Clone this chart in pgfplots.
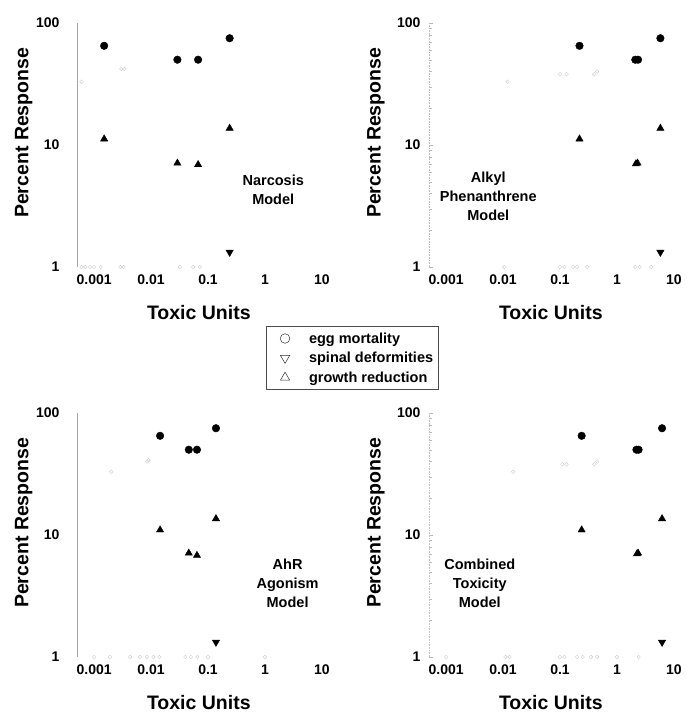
\documentclass[border=0pt]{standalone}
\usepackage{fontspec}
\setmainfont{Liberation Sans}
\usepackage{pgfplots}
\pgfplotsset{compat=1.18}

\pgfplotsset{
  myegg/.style={only marks, mark=*, black, mark size=3.8pt},
  mygrowth/.style={only marks, mark=triangle*, black, mark size=4.2pt},
  myspinal/.style={only marks, mark=triangle*, black, mark size=4.2pt,
                 mark options={rotate=180}},
  myfaint/.style={only marks, mark=o, mark size=1.8pt, gray!40,
                line width=0.4pt},
}
\tikzset{mytag/.style={font=\fontsize{14.5}{19}\selectfont\bfseries, align=center}}

\begin{document}
\begin{tikzpicture}
\useasboundingbox (0,0) rectangle (687pt,714pt);

% top left
\begin{axis}[at={(77pt,447pt)},
    xmode=log, ymode=log,
    scale only axis, width=262pt, height=244pt,
    xmin=5e-4, xmax=20, ymin=1, ymax=100,
    axis lines*=left,
    x axis line style={draw=none},
    y axis line style={gray!70, line width=0.6pt},
    xtick={0.001,0.01,0.1,1,10},
    xticklabels={0.001,0.01,0.1,1,10},
    ytick={1,10,100}, yticklabels={1,10,100},
    major tick length=0pt, minor tick length=0pt,
    tick label style={font=\fontsize{14}{14}\selectfont\bfseries},
    xticklabel style={yshift=-4pt},
    yticklabel style={xshift=-14pt},
    xlabel={Toxic Units}, ylabel={Percent Response},
    label style={font=\fontsize{19.5}{19.5}\selectfont\bfseries},
    xlabel style={at={(axis description cs:0.465,-0.185)}, anchor=center},
    ylabel style={at={(axis description cs:-0.203,0.55)}, anchor=center},
    clip=false,
  legend style={at={(1.05,-0.373)}, anchor=center,
                font=\fontsize{14.5}{14.5}\selectfont\bfseries,
                draw=black!70, line width=0.6pt,
                inner xsep=3pt, inner ysep=4pt, row sep=3.5pt},
  legend image code/.code={\path[draw=none, fill=none] (0pt,-5pt) rectangle (38pt,5pt);
                           \draw[#1] plot coordinates {(16pt,0pt)};},
  legend cell align=left]
  \addlegendimage{only marks, mark=o, mark size=4.8pt, black!80, line width=0.5pt}
  \addlegendentry{egg mortality}
  \addlegendimage{only marks, mark=triangle, mark size=5.4pt, black!80, line width=0.5pt, mark options={rotate=180}}
  \addlegendentry{spinal deformities}
  \addlegendimage{only marks, mark=triangle, mark size=5.4pt, black!80, line width=0.5pt}
  \addlegendentry{growth reduction}
  \addplot[myfaint, forget plot] coordinates {(0.0006,1)(0.0007,1)(0.00085,1)(0.001,1)(0.0013,1)
    (0.0029,1)(0.0033,1)(0.032,1)(0.055,1)(0.072,1)(0.0006,33)(0.003,42)(0.0034,42)};
  \addplot[myegg, forget plot] coordinates {(0.0015,65)(0.029,50)(0.067,50)(0.24,75)};
  \addplot[mygrowth, forget plot] coordinates {(0.0015,11.2)(0.029,7.1)(0.067,6.9)(0.24,13.7)};
  \addplot[myspinal, forget plot] coordinates {(0.24,1.32)};
  \node[mytag] at (axis cs:1.4,4.3) {Narcosis\\Model};
\end{axis}

% top right
\begin{axis}[at={(429pt,447pt)},
    xmode=log, ymode=log,
    scale only axis, width=262pt, height=244pt,
    xmin=5e-4, xmax=20, ymin=1, ymax=100,
    axis lines*=left,
    x axis line style={draw=none},
    y axis line style={gray!50, densely dotted, line width=0.6pt},
    xtick={0.001,0.01,0.1,1,10},
    xticklabels={0.001,0.01,0.1,1,10},
    ytick={1,10,100}, yticklabels={1,10,100},
    xtick style={draw=none},
    ytick style={gray!55, line width=0.4pt},
    major tick length=4pt, minor tick length=2.5pt,
    tick label style={font=\fontsize{14}{14}\selectfont\bfseries},
    xticklabel style={yshift=-4pt},
    yticklabel style={xshift=-5pt},
    xlabel={Toxic Units}, ylabel={Percent Response},
    label style={font=\fontsize{19.5}{19.5}\selectfont\bfseries},
    xlabel style={at={(axis description cs:0.465,-0.185)}, anchor=center},
    ylabel style={at={(axis description cs:-0.203,0.55)}, anchor=center},
    clip=false]
  \addplot[myfaint] coordinates {(0.0105,1)(0.1,1)(0.12,1)(0.17,1)(0.2,1)(0.3,1)
    (2.1,1)(2.5,1)(4,1)(0.012,33)(0.1,38)(0.13,38)(0.4,38)(0.45,40)};
  \addplot[myegg] coordinates {(0.22,65)(2.1,50)(2.35,50)(5.8,75)};
  \addplot[mygrowth] coordinates {(0.22,11.2)(2.15,7)(2.3,7.1)(5.8,13.7)};
  \addplot[myspinal] coordinates {(5.8,1.32)};
  \node[mytag] at (axis cs:0.0055,3.8) {Alkyl\\Phenanthrene\\Model};
\end{axis}

% bottom left
\begin{axis}[at={(77pt,57pt)},
    xmode=log, ymode=log,
    scale only axis, width=262pt, height=244pt,
    xmin=5e-4, xmax=20, ymin=1, ymax=100,
    axis lines*=left,
    x axis line style={draw=none},
    y axis line style={gray!70, line width=0.6pt},
    xtick={0.001,0.01,0.1,1,10},
    xticklabels={0.001,0.01,0.1,1,10},
    ytick={1,10,100}, yticklabels={1,10,100},
    major tick length=0pt, minor tick length=0pt,
    tick label style={font=\fontsize{14}{14}\selectfont\bfseries},
    xticklabel style={yshift=-4pt},
    yticklabel style={xshift=-14pt},
    xlabel={Toxic Units}, ylabel={Percent Response},
    label style={font=\fontsize{19.5}{19.5}\selectfont\bfseries},
    xlabel style={at={(axis description cs:0.465,-0.185)}, anchor=center},
    ylabel style={at={(axis description cs:-0.203,0.55)}, anchor=center},
    clip=false]
  \addplot[myfaint] coordinates {(0.001,1)(0.0019,1)(0.0043,1)(0.0064,1)(0.0085,1)
    (0.011,1)(0.014,1)(0.04,1)(0.05,1)(0.065,1)(0.1,1)(1,1)(0.002,33)(0.0085,40)(0.009,41)};
  \addplot[myegg] coordinates {(0.0144,65)(0.046,50)(0.064,50)(0.138,75)};
  \addplot[mygrowth] coordinates {(0.0144,11)(0.046,7.1)(0.064,6.8)(0.138,13.6)};
  \addplot[myspinal] coordinates {(0.138,1.32)};
  \node[mytag] at (axis cs:2.5,4.0) {AhR\\Agonism\\Model};
\end{axis}

% bottom right
\begin{axis}[at={(429pt,57pt)},
    xmode=log, ymode=log,
    scale only axis, width=262pt, height=244pt,
    xmin=5e-4, xmax=20, ymin=1, ymax=100,
    axis lines*=left,
    x axis line style={draw=none},
    y axis line style={gray!50, densely dotted, line width=0.6pt},
    xtick={0.001,0.01,0.1,1,10},
    xticklabels={0.001,0.01,0.1,1,10},
    ytick={1,10,100}, yticklabels={1,10,100},
    xtick style={draw=none},
    ytick style={gray!55, line width=0.4pt},
    major tick length=4pt, minor tick length=2.5pt,
    tick label style={font=\fontsize{14}{14}\selectfont\bfseries},
    xticklabel style={yshift=-4pt},
    yticklabel style={xshift=-5pt},
    xlabel={Toxic Units}, ylabel={Percent Response},
    label style={font=\fontsize{19.5}{19.5}\selectfont\bfseries},
    xlabel style={at={(axis description cs:0.465,-0.185)}, anchor=center},
    ylabel style={at={(axis description cs:-0.203,0.55)}, anchor=center},
    clip=false]
  \addplot[myfaint] coordinates {(0.001,1)(0.011,1)(0.013,1)(0.1,1)(0.12,1)(0.2,1)
    (0.25,1)(0.35,1)(0.45,1)(1,1)(2.4,1)(0.015,33)(0.11,38)(0.13,38)(0.4,38)(0.45,40)};
  \addplot[myegg] coordinates {(0.24,65)(2.2,50)(2.4,50)(6.2,75)};
  \addplot[mygrowth] coordinates {(0.24,11)(2.25,7)(2.35,7.1)(6.2,13.6)};
  \addplot[myspinal] coordinates {(6.2,1.32)};
  \node[mytag] at (axis cs:0.0039,4.0) {Combined\\Toxicity\\Model};
\end{axis}
\end{tikzpicture}
\end{document}
